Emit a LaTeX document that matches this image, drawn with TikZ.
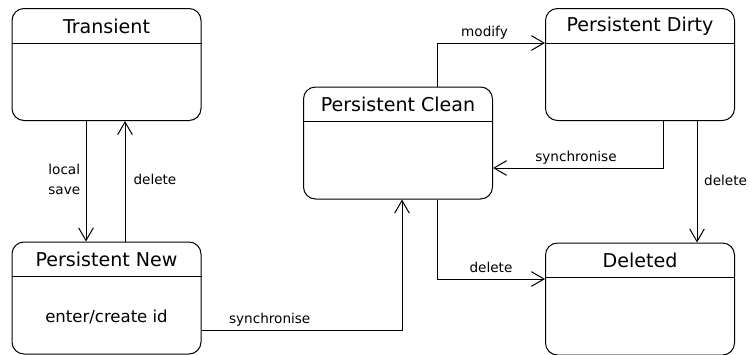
\documentclass[tikz,border=0pt]{standalone}
\usepackage{fontspec}
\setmainfont{DejaVu Sans}
\usetikzlibrary{arrows.meta,calc}

\begin{document}
\begin{tikzpicture}[x=0.75pt,y=0.75pt,yscale=-1,xscale=1,line width=0.75pt,
    >={Straight Barb[length=9.5pt,width=11pt]},
    state/.style={draw, rounded corners=9pt, minimum width=141.75pt, minimum height=84pt, inner sep=0pt},
    statetitle/.style={font=\fontsize{14.3}{17}\selectfont, inner sep=0pt},
    statebody/.style={font=\fontsize{12.4}{15}\selectfont, inner sep=0pt},
    trans/.style={->},
    translabel/.style={font=\fontsize{10.2}{15}\selectfont, inner sep=2pt, text depth=.25em}]
    \path[use as bounding box] (0,0) rectangle (752,354);

    %Shape: Rounded Rect [Transient]
    \node [state] (transient) at (106.5,64.5) {};
    \draw ($(transient.north west)+(0,35)$) -- ($(transient.north east)+(0,35)$);
    % Text Node
    \node [statetitle] (transienttitle) at ($(transient.north)+(0,18)$) {Transient};

    %Shape: Rounded Rect [Persistent New]
    \node [state] (new) at (106.5,298) {};
    \draw ($(new.north west)+(0,35)$) -- ($(new.north east)+(0,35)$);
    % Text Node
    \node [statetitle] (newtitle) at ($(new.north)+(0,18)$) {Persistent New};
    % Text Node
    \node [statebody] (newbody) at ($(new.north)+(0,75)$) {enter/create id};

    %Shape: Rounded Rect [Persistent Clean]
    \node [state] (clean) at (398,143) {};
    \draw ($(clean.north west)+(0,35)$) -- ($(clean.north east)+(0,35)$);
    % Text Node
    \node [statetitle] (cleantitle) at ($(clean.north)+(0,18)$) {Persistent Clean};

    %Shape: Rounded Rect [Persistent Dirty]
    \node [state] (dirty) at (640,64.5) {};
    \draw ($(dirty.north west)+(0,35)$) -- ($(dirty.north east)+(0,35)$);
    % Text Node
    \node [statetitle] (dirtytitle) at ($(dirty.north)+(0,18)$) {Persistent Dirty};

    %Shape: Rounded Rect [Deleted]
    \node [state] (deleted) at (640,299) {};
    \draw ($(deleted.north west)+(0,35)$) -- ($(deleted.north east)+(0,35)$);
    % Text Node
    \node [statetitle] (deletedtitle) at ($(deleted.north)+(0,18)$) {Deleted};

    %Straight Lines [local save]
    \draw [trans] ($(transient.south)+(-20.5,0)$) -- ($(new.north)+(-20.5,0)$)
        node [translabel, midway, left, align=center, xshift=-2pt] {local\\save};
    %Straight Lines [delete]
    \draw [trans] ($(new.north)+(18.5,0)$) -- ($(transient.south)+(18.5,0)$)
        node [translabel, midway, right, xshift=4pt] {delete};
    %Straight Lines [synchronise]
    \draw [trans] ($(new.east)+(0,32)$) -| ($(clean.south)+(4,0)$)
        node [translabel, pos=0.17, above] {synchronise};
    %Straight Lines [modify]
    \draw [trans] ($(clean.north)+(39,0)$) |- ($(dirty.west)+(0,-21.5)$)
        node [translabel, pos=0.72, above] {modify};
    %Straight Lines [synchronise]
    \draw [trans] ($(dirty.south)+(23,0)$) |- ($(clean.east)+(0,25)$)
        node [translabel, pos=0.756, above] {synchronise};
    %Straight Lines [delete]
    \draw [trans] ($(dirty.south)+(57,0)$) -- ($(deleted.north)+(57,0)$)
        node [translabel, midway, right, xshift=3pt] {delete};
    %Straight Lines [delete]
    \draw [trans] ($(clean.south)+(39,0)$) |- ($(deleted.west)+(0,-20)$)
        node [translabel, pos=0.75, above] {delete};

\end{tikzpicture}
\end{document}
